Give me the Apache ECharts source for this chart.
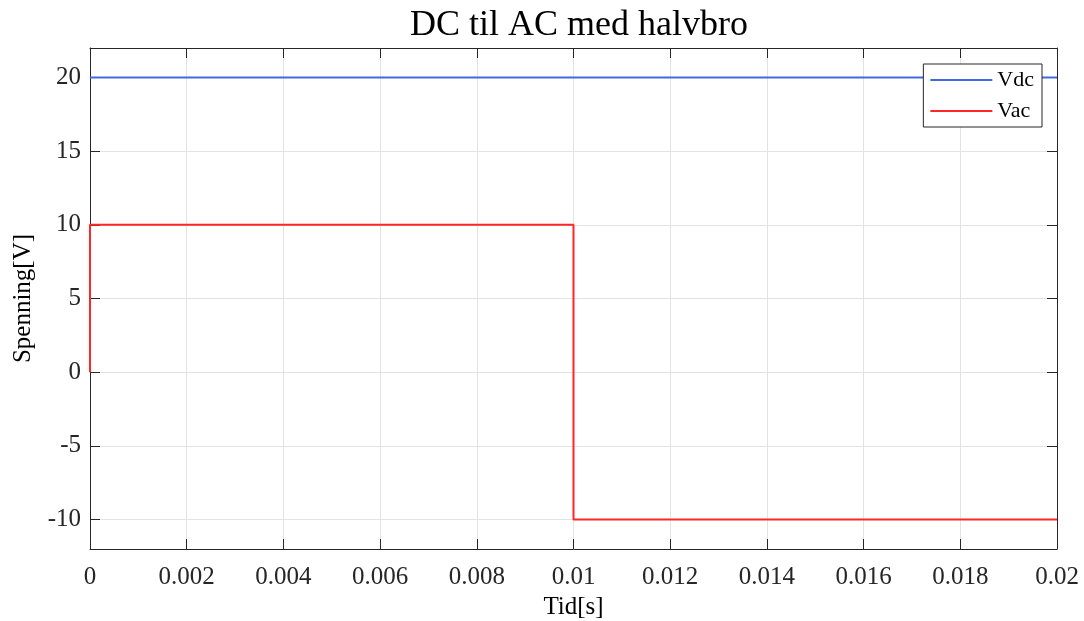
<!DOCTYPE html>
<html>
<head>
<meta charset="utf-8">
<script src="https://cdn.jsdelivr.net/npm/echarts@6/dist/echarts.min.js"></script>
<style>
html,body{margin:0;padding:0;background:#fff;}
#c{width:1084px;height:621px;}
</style>
</head>
<body>
<div id="c"></div>
<script>
// Data
const vdcTime = [0, 0.02];
const vdcValues = [20, 20];
const vacTime = [0, 0, 0.01, 0.01, 0.02];
const vacValues = [0, 10, 10, -10, -10];
const yTicks = [-10, -5, 0, 5, 10, 15, 20];
const seriesNames = ['Vdc', 'Vac'];

const FONT = '"Liberation Serif", "DejaVu Serif", serif';
const AX = '#262626';
const GRID = '#e3e3e3';

const zip = (a, b) => a.map((v, i) => [v, b[i]]);

const chart = echarts.init(document.getElementById('c'), null, {renderer: 'canvas'});

const fmtX = v => {
  if (Math.abs(v) < 1e-12) return '0';
  return String(parseFloat(v.toFixed(4)));
};

const tickStyle = {show: true, inside: true, length: 10, lineStyle: {color: AX}};
const lineStyleAx = {show: true, onZero: false, lineStyle: {color: AX, width: 1}};

chart.setOption({
  animation: false,
  backgroundColor: '#fff',
  title: {
    text: 'DC til AC med halvbro',
    left: 405,
    top: 3,
    textStyle: {fontFamily: FONT, fontSize: 36, fontWeight: 'normal', color: '#000'}
  },
  legend: {
    data: seriesNames.map(n => ({name: n, icon: 'rect'})),
    orient: 'vertical',
    right: 42,
    top: 64,
    itemWidth: 62,
    itemHeight: 2,
    itemGap: 7,
    padding: [4, 8, 4, 7],
    borderColor: '#262626',
    borderWidth: 1,
    backgroundColor: '#fff',
    textStyle: {fontFamily: FONT, fontSize: 22, color: '#000', lineHeight: 24}
  },
  grid: {left: 90, right: 27, top: 48, bottom: 72, containLabel: false, outerBoundsMode: 'none'},
  xAxis: [
    {
      type: 'value', min: 0, max: 0.02, interval: 0.002,
      position: 'bottom',
      name: 'Tid[s]', nameLocation: 'middle', nameGap: 43,
      nameTextStyle: {fontFamily: FONT, fontSize: 25, color: '#000'},
      axisLine: lineStyleAx,
      axisTick: tickStyle,
      axisLabel: {fontFamily: FONT, fontSize: 25, color: '#262626', margin: 16, formatter: fmtX},
      splitLine: {show: true, lineStyle: {color: GRID, width: 1}}
    },
    {
      type: 'value', min: 0, max: 0.02, interval: 0.002,
      position: 'top',
      axisLine: lineStyleAx,
      axisTick: tickStyle,
      axisLabel: {show: false},
      splitLine: {show: false}
    }
  ],
  yAxis: [
    {
      type: 'value', min: -12, max: 22,
      position: 'left',
      name: 'Spenning[V]', nameLocation: 'middle', nameGap: 54, nameRotate: 90,
      nameTextStyle: {fontFamily: FONT, fontSize: 25, color: '#000'},
      axisLine: lineStyleAx,
      axisTick: Object.assign({}, tickStyle, {customValues: yTicks}),
      axisLabel: {fontFamily: FONT, fontSize: 25, color: '#262626', margin: 9, customValues: yTicks},
      splitLine: {show: true, lineStyle: {color: GRID, width: 1}}
    },
    {
      type: 'value', min: -12, max: 22,
      position: 'right',
      axisLine: lineStyleAx,
      axisTick: Object.assign({}, tickStyle, {customValues: yTicks}),
      axisLabel: {show: false, customValues: yTicks},
      splitLine: {show: false}
    }
  ],
  series: [
    {
      name: 'Vdc', type: 'line', xAxisIndex: 0, yAxisIndex: 0,
      data: zip(vdcTime, vdcValues),
      showSymbol: false, symbol: 'none',
      lineStyle: {color: '#4169e1', width: 2},
      itemStyle: {color: '#4169e1'},
      z: 3
    },
    {
      name: 'Vac', type: 'line', xAxisIndex: 0, yAxisIndex: 0,
      data: zip(vacTime, vacValues),
      showSymbol: false, symbol: 'none',
      lineStyle: {color: '#ff2626', width: 2},
      itemStyle: {color: '#ff2626'},
      z: 3
    }
  ]
});
</script>
</body>
</html>
